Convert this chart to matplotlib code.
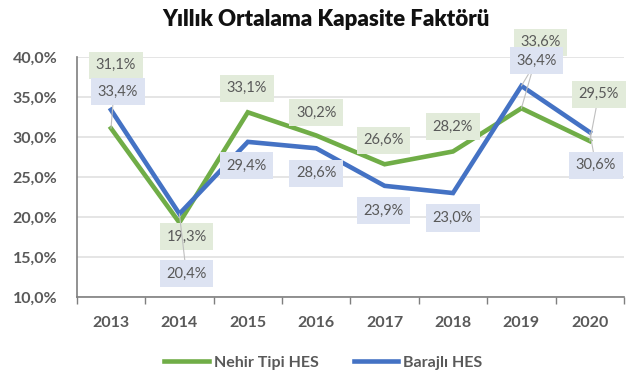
import matplotlib.pyplot as plt
import numpy as np

plt.rcParams['font.family'] = ['Lato', 'DejaVu Sans']

# === Data ===
years = ['2013', '2014', '2015', '2016', '2017', '2018', '2019', '2020']
nehir = [31.1, 19.3, 33.1, 30.2, 26.6, 28.2, 33.6, 29.5]
baraj = [33.4, 20.4, 29.4, 28.6, 23.9, 23.0, 36.4, 30.6]
series_names = ['Nehir Tipi HES', 'Barajlı HES']
title = 'Yıllık Ortalama Kapasite Faktörü'

# === Label placement (pixel offsets from the point) ===
nehir_off = [(5, -63), (7, 14), (-1, -24), (0, -23), (-1, -24), (0, -25), (19, -66), (9, -47)]
baraj_off = [(7, -18), (7, 60), (-1, 24), (0, 25), (-1, 25), (0, 25), (15, -25), (6, 33)]
nehir_lead = [True, False, False, False, False, False, True, True]
baraj_lead = [False, True, False, False, False, False, True, True]

green = '#70AD47'
blue = '#4472C4'
green_box = '#E2EBDA'
blue_box = '#DDE3F2'
gray_txt = '#595959'

fig = plt.figure(figsize=(6.4, 3.82), dpi=100)
ax = fig.add_axes([0.120, 0.2225, 0.855, 0.628])

x = np.arange(len(years))
ax.plot(x, nehir, color=green, lw=3.3, label=series_names[0], zorder=3, solid_joinstyle='miter')
ax.plot(x, baraj, color=blue, lw=3.3, label=series_names[1], zorder=3, solid_joinstyle='miter')


def fmt(v):
    return f'{v:.1f}%'.replace('.', ',')


def add_labels(vals, offs, leads, box_color):
    for i, v in enumerate(vals):
        dx, dy = offs[i]
        arrow = None
        if leads[i]:
            arrow = dict(arrowstyle='-', color='#BFBFBF', lw=0.8, shrinkA=0, shrinkB=0)
        ax.annotate(fmt(v), xy=(x[i], v), xytext=(dx * 0.72, -dy * 0.72),
                    textcoords='offset points', ha='center', va='center',
                    fontsize=10.5, color=gray_txt, zorder=5,
                    bbox=dict(boxstyle='square,pad=0.45', fc=box_color, ec='none'),
                    arrowprops=arrow, annotation_clip=False)


add_labels(nehir, nehir_off, nehir_lead, green_box)
add_labels(baraj, baraj_off, baraj_lead, blue_box)

ax.set_xlim(-0.5, len(years) - 0.5)
ax.set_ylim(10, 40)
ax.set_yticks(np.arange(10, 41, 5))
ax.set_yticklabels([fmt(t) for t in np.arange(10, 41, 5)])
ax.set_xticks(x)
ax.set_xticklabels(years)
ax.set_xticks(np.arange(-0.5, len(years), 1), minor=True)

ax.tick_params(axis='x', which='major', length=0, pad=14)
ax.tick_params(axis='x', which='minor', length=5, width=1, color='#7F7F7F', direction='out')
ax.tick_params(axis='y', length=0, pad=14)
for lab in ax.get_xticklabels() + ax.get_yticklabels():
    lab.set_fontweight('bold')
    lab.set_fontsize(11.5)
    lab.set_color(gray_txt)

ax.grid(axis='y', color='#E0E0E0', lw=1.2)
ax.set_axisbelow(True)
for s in ['top', 'right']:
    ax.spines[s].set_visible(False)
ax.spines['left'].set_color('#7F7F7F')
ax.spines['left'].set_linewidth(1.2)
ax.spines['bottom'].set_color('#7F7F7F')
ax.spines['bottom'].set_linewidth(1.2)

fig.text(0.51, 0.948, title, ha='center', va='center', fontsize=16,
         fontweight='heavy', color='#111111')

leg = fig.legend(loc='center', bbox_to_anchor=(0.505, 0.05), ncol=2, frameon=False,
                 handlelength=2.8, columnspacing=2.2, handletextpad=0.3,
                 prop={'weight': 'bold', 'size': 11.5})
for t in leg.get_texts():
    t.set_color(gray_txt)

fig.savefig('out.png', dpi=100)
